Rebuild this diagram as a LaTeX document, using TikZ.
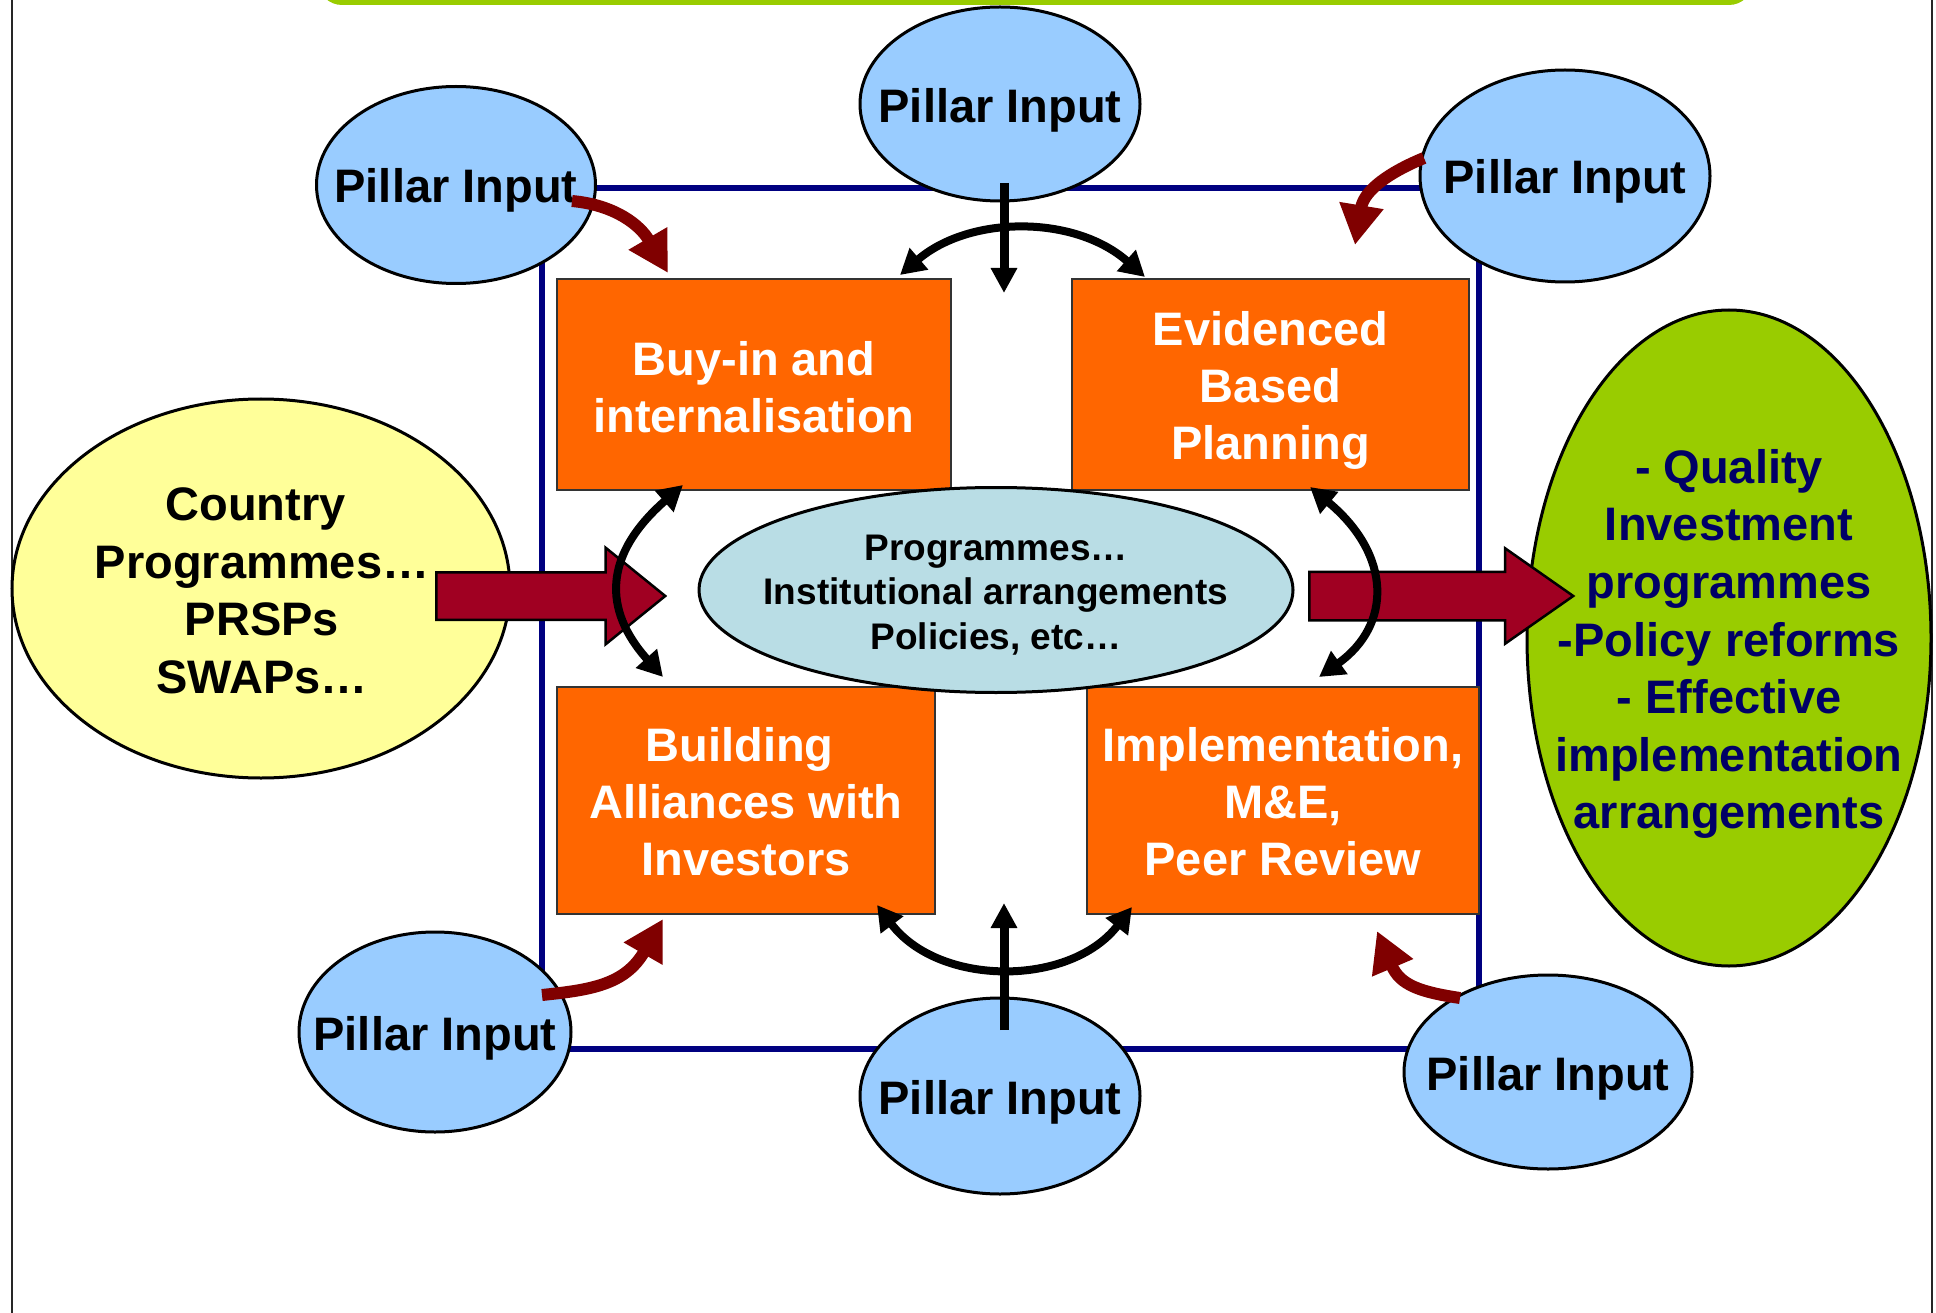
\documentclass[tikz,border=0pt]{standalone}
\usepackage{fontspec}
\setmainfont{Liberation Sans}
\usetikzlibrary{shapes.geometric,shapes.arrows,arrows.meta}
\definecolor{pillarblue}{HTML}{99CCFF}
\definecolor{boxorange}{HTML}{FF6600}
\definecolor{coreblue}{HTML}{B9DDE5}
\definecolor{softyellow}{HTML}{FFFF99}
\definecolor{leafgreen}{HTML}{99CC00}
\definecolor{framenavy}{HTML}{000080}
\definecolor{textnavy}{HTML}{000066}
\definecolor{maroonarr}{HTML}{800000}
\definecolor{bigred}{HTML}{A00022}
\begin{document}
\begin{tikzpicture}[x=1pt,y=-1pt,
  pillar/.style={ellipse, draw=black, line width=3pt, fill=pillarblue, inner sep=0pt},
  bigtxt/.style={font=\fontsize{47}{57}\selectfont\bfseries, align=center, inner sep=0pt},
  ptext/.style={bigtxt, text=black},
  wtext/.style={bigtxt, text=white},
  stagebox/.style={rectangle, draw=black!80, line width=2.5pt, fill=boxorange, inner sep=0pt},
  core/.style={ellipse, draw=black, line width=3pt, fill=coreblue, inner sep=0pt},
  coretxt/.style={font=\fontsize{37}{44.5}\selectfont\bfseries, align=center, inner sep=0pt},
  country/.style={ellipse, draw=black, line width=3pt, fill=softyellow, inner sep=0pt},
  result/.style={ellipse, draw=black, line width=3pt, fill=leafgreen, inner sep=0pt},
  bigarr/.style={single arrow, draw=black, line width=2.5pt, fill=bigred, inner xsep=0pt, single arrow head indent=0pt},
  blkone/.style={line width=9pt, -{Triangle[length=25pt,width=25pt]}},
  blktwo/.style={line width=8pt, {Triangle[length=25pt,width=27pt]}-{Triangle[length=25pt,width=27pt]}},
  marr/.style={line width=12pt, draw=maroonarr, -{Triangle[length=40pt,width=42pt]}, maroonarr}
]
\useasboundingbox (0,0) rectangle (1936,1313);
\fill[white] (0,0) rectangle (1936,1313);
% top green bar
\fill[leafgreen, rounded corners=24pt] (318,-60) rectangle (1753,5);
% slide side lines
\coordinate (sl1) at (12,0); \coordinate (sl2) at (12,1313);
\coordinate (sr1) at (1932,0); \coordinate (sr2) at (1932,1313);
\draw[line width=1.5pt, black!85] (sl1) -- (sl2);
\draw[line width=1.5pt, black!85] (sr1) -- (sr2);
% frame
\node[draw=framenavy, line width=6pt, minimum width=937pt, minimum height=861pt, inner sep=0pt] (frame) at (1010.5,618.5) {};
% stage boxes
\node[stagebox, minimum width=394pt, minimum height=211pt, label={[wtext, yshift=-3pt]center:Buy-in and\\internalisation}] (b1) at (754,384.5) {};
\node[stagebox, minimum width=397pt, minimum height=211pt, label={[wtext, yshift=-6pt]center:Evidenced\\Based\\Planning}] (b2) at (1270.5,384.5) {};
\node[stagebox, minimum width=378pt, minimum height=227pt, label={[wtext, yshift=-1pt]center:Building\hspace*{13pt}\\Alliances with\hspace*{13pt}\\Investors}] (b3) at (746,800.5) {};
\node[stagebox, minimum width=392pt, minimum height=227pt, label={[wtext, yshift=-1pt]center:Implementation,\\M\&E,\\Peer Review}] (b4) at (1283,800.5) {};
% core ellipse
\node[core, minimum width=594pt, minimum height=205pt] (core) at (996,590) {};
\node[coretxt] (coret) at (996,595) {Programmes…\\Institutional arrangements\\Policies, etc…};
% country ellipse
\node[country, minimum width=498pt, minimum height=379pt] (cty) at (261,588.5) {};
\node[ptext, font=\fontsize{47}{57.6}\selectfont\bfseries] (ctyt) at (262,591) {Country\hspace*{13pt}\\Programmes…\\PRSPs\\SWAPs…};
% result ellipse
\node[result, minimum width=404pt, minimum height=656pt] (res) at (1729,638) {};
\node[bigtxt, font=\fontsize{47}{57.6}\selectfont\bfseries, text=textnavy] (rest) at (1729,644) {- Quality\\Investment\\programmes\\-Policy reforms\\- Effective\\implementation\\arrangements};
% big arrows
\node[bigarr, inner ysep=22.5pt, minimum height=229pt, single arrow head extend=24.5pt, single arrow tip angle=78, anchor=tail] (arL) at (435,596) {};
\node[bigarr, inner ysep=23pt, minimum height=264pt, single arrow head extend=23.5pt, single arrow tip angle=70, anchor=tail] (arR) at (1308,596) {};
% curved double arrows between boxes
\coordinate (l1) at (683,485); \coordinate (l2) at (663,677);
\coordinate (r1) at (1310,487); \coordinate (r2) at (1319,677);
\coordinate (t1) at (900,275); \coordinate (t2) at (1145,277);
\coordinate (u1) at (877,905); \coordinate (u2) at (1132,907);
\draw[blktwo] (l1) .. controls (603,555) and (603,610) .. (l2);
\draw[blktwo] (r1) .. controls (1392,555) and (1392,625) .. (r2);
\draw[blktwo] (t1) .. controls (970,215) and (1075,215) .. (t2);
\draw[blktwo] (u1) .. controls (939,987) and (1070,987) .. (u2);
% pillars
\node[pillar, minimum width=280pt, minimum height=194pt, label={[ptext, yshift=-6pt]center:Pillar Input}] (pT) at (1000,104) {};
\node[pillar, minimum width=279pt, minimum height=197pt, label={[ptext, yshift=-5pt]center:Pillar Input}] (pTL) at (456,185) {};
\node[pillar, minimum width=290pt, minimum height=212pt, label={[ptext, yshift=-5pt]center:Pillar Input}] (pTR) at (1565,176) {};
\node[pillar, minimum width=272pt, minimum height=200pt, label={[ptext, yshift=-6pt]center:Pillar Input}] (pBL) at (435,1032) {};
\node[pillar, minimum width=288pt, minimum height=194pt, label={[ptext, yshift=-6pt]center:Pillar Input}] (pBR) at (1548,1072) {};
\node[pillar, minimum width=280pt, minimum height=196pt, label={[ptext, yshift=-6pt]center:Pillar Input}] (pB) at (1000,1096) {};
% vertical black arrows
\coordinate (vt1) at (1004,183); \coordinate (vt2) at (1004,293);
\coordinate (vb1) at (1004,1030); \coordinate (vb2) at (1004,903);
\draw[blkone] (vt1) -- (vt2);
\draw[blkone] (vb1) -- (vb2);
% maroon input arrows
\coordinate (mtl1) at (572,201); \coordinate (mtl2) at (668,273);
\coordinate (mtr1) at (1424,158); \coordinate (mtr2) at (1355,245);
\coordinate (mbl1) at (542,995); \coordinate (mbl2) at (663,919);
\coordinate (mbr1) at (1460,998); \coordinate (mbr2) at (1377,931);
\draw[marr] (mtl1) .. controls (615,205) and (640,225) .. (mtl2);
\draw[marr] (mtr1) .. controls (1390,172) and (1364,190) .. (mtr2);
\draw[marr] (mbl1) .. controls (590,990) and (625,985) .. (mbl2);
\draw[marr] (mbr1) .. controls (1420,992) and (1400,985) .. (mbr2);
\end{tikzpicture}
\end{document}
